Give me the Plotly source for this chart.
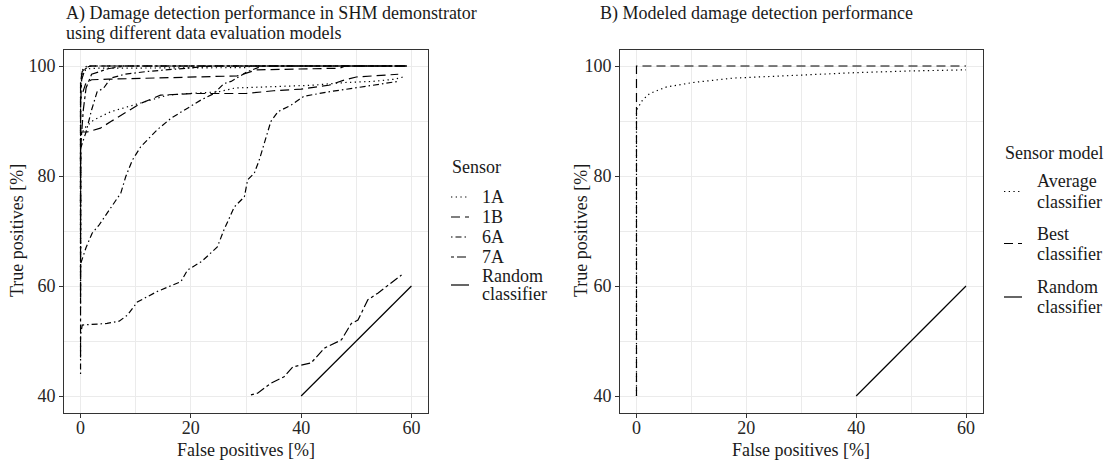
import plotly.graph_objects as go

# ---------------- data ----------------
# Panel A: ROC curves per sensor (false positives %, true positives %)
fp_1a_1 = [0, 0, 0.5, 1.5, 3, 10, 20, 30, 31, 59.2]
tp_1a_1 = [72, 97, 99, 99.5, 99.6, 99.6, 99.7, 99.7, 100, 100]
fp_1a_2 = [0, 0, 1, 2.4, 5.5, 8.5, 12.7, 15.8, 19.4, 25, 28, 35, 42, 48, 53, 57, 58.5]
tp_1a_2 = [66, 87.5, 89, 90.2, 91.7, 92.6, 93.8, 94.7, 95, 95.3, 96, 96.2, 96.5, 97, 97.2, 97.6, 98]
fp_1a_3 = [0, 0, 0.2, 0.6, 1.2, 59.2]
tp_1a_3 = [60, 96, 99, 99.7, 100, 100]

fp_1b_1 = [0, 0, 1, 2, 5, 15, 25, 28.4, 32, 40, 47, 48, 59.2]
tp_1b_1 = [75, 94, 97, 97.5, 97.6, 97.8, 98, 98.2, 99.3, 99.5, 99.6, 100, 100]
fp_1b_2 = [0, 0, 1.2, 3.6, 5.5, 8.5, 10.9, 14.5, 20.5, 30, 35, 40, 45, 48, 50, 57.6]
tp_1b_2 = [70, 88, 88, 88.7, 89.9, 91.7, 93.2, 94.7, 95, 95, 95.5, 95.8, 96.5, 97.5, 98, 98.5]
fp_1b_3 = [0, 0, 0.3, 1, 2, 59.2]
tp_1b_3 = [80, 97, 99, 99.8, 100, 100]

fp_6a_1 = [0, 0, 1, 2.1, 3.3, 6, 7.3, 8.2, 9.4, 10.9, 13.9, 16.4, 19.4, 21.8, 24.2, 26, 27.3, 30.3, 33, 59.2]
tp_6a_1 = [56, 64, 67, 69.6, 71, 75, 76.9, 79.9, 82.9, 85.3, 88.4, 90.5, 92.3, 93.8, 95, 96.8, 97.2, 99, 100, 100]
fp_6a_2 = [0, 0, 0.3, 4.8, 7, 8.5, 10.3, 13.9, 18.2, 19.4, 22, 24.8, 26, 27.9, 29.7, 30.3, 31.5,
           32.4, 34.5, 35.8, 38.2, 40.5, 45, 50, 55, 57.5]
tp_6a_2 = [44, 51, 52.9, 53.2, 53.6, 54.7, 57.1, 59, 60.8, 62.9, 64.5, 67.1, 70.2, 74.4, 76.2, 79.3, 80.5,
           82.9, 89.9, 91.7, 92.9, 94.5, 95.3, 96, 96.8, 97.2]
fp_6a_3 = [0, 0, 1, 2, 3, 4.2, 5.5, 8, 12, 18, 24, 59.2]
tp_6a_3 = [62, 85, 88, 92, 95.3, 96, 97.8, 98.5, 99, 99.5, 100, 100]

fp_7a_1 = [30.9, 32.1, 34.5, 36.9, 38.5, 41.8, 44.2, 47.3, 49.1, 50.3, 52.1, 53.9, 58.2]
tp_7a_1 = [40.2, 40.5, 42.3, 43.5, 45.3, 46, 48.7, 50.2, 53.2, 53.8, 57.5, 58.7, 62]
fp_7a_2 = [0, 0, 0.2, 0.8, 1.5, 59.2]
tp_7a_2 = [47, 93, 97.5, 99.4, 100, 100]
fp_7a_3 = [0, 0, 0.5, 1, 2, 5, 8, 59.2]
tp_7a_3 = [58, 85, 92, 96, 98.5, 99.5, 100, 100]

random_fp = [40, 60]
random_tp = [40, 60]

# Panel B: modeled classifiers
avg_fp = [0, 0, 0.2, 1.1, 2.4, 5.5, 10.3, 17.6, 26.7, 40.1, 50, 60]
avg_tp = [40, 92, 92.3, 93.8, 95, 96.2, 97, 97.8, 98.2, 98.8, 99.1, 99.3]
best_fp = [0, 0, 60]
best_tp = [40, 100, 100]

sensors = ["1A", "1B", "6A", "7A"]
sensor_curves = {
    "1A": [(fp_1a_1, tp_1a_1), (fp_1a_2, tp_1a_2), (fp_1a_3, tp_1a_3)],
    "1B": [(fp_1b_1, tp_1b_1), (fp_1b_2, tp_1b_2), (fp_1b_3, tp_1b_3)],
    "6A": [(fp_6a_1, tp_6a_1), (fp_6a_2, tp_6a_2), (fp_6a_3, tp_6a_3)],
    "7A": [(fp_7a_1, tp_7a_1), (fp_7a_2, tp_7a_2), (fp_7a_3, tp_7a_3)],
}
legend_a_labels = ["1A", "1B", "6A", "7A", "Random classifier"]
legend_b_labels = ["Average classifier", "Best classifier", "Random classifier"]
x_ticks = [0, 20, 40, 60]
y_ticks = [40, 60, 80, 100]

# ---------------- styling ----------------
W, H = 1106, 462
FONT = "Liberation Serif"
TXT = "#1a1a1a"
FS = 18
LW = 1.2
DASH = {
    "dotted": "1.3px,3.4px",
    "dashed": "9px,5px",
    "dotdash": "1.5px,3px,6px,3px",
    "twodash": "3px,3px,9px,3px",
    "solid": "solid",
}
sensor_dash = {"1A": "dotted", "1B": "dashed", "6A": "dotdash", "7A": "twodash"}

fig = go.Figure()

for s in sensors:
    for i, (fx, ty) in enumerate(sensor_curves[s]):
        fig.add_trace(go.Scatter(
            x=fx, y=ty, mode="lines", name=s, legendgroup=s, showlegend=False,
            line=dict(color="black", width=LW, dash=DASH[sensor_dash[s]]),
            xaxis="x", yaxis="y", hoverinfo="skip"))
fig.add_trace(go.Scatter(
    x=random_fp, y=random_tp, mode="lines", name="Random classifier", showlegend=False,
    line=dict(color="black", width=LW, dash="solid"), xaxis="x", yaxis="y"))

fig.add_trace(go.Scatter(
    x=avg_fp, y=avg_tp, mode="lines", name="Average classifier", showlegend=False,
    line=dict(color="black", width=LW, dash=DASH["dotted"]), xaxis="x2", yaxis="y2"))
fig.add_trace(go.Scatter(
    x=best_fp, y=best_tp, mode="lines", name="Best classifier", showlegend=False,
    line=dict(color="black", width=LW, dash=DASH["dashed"]), xaxis="x2", yaxis="y2"))
fig.add_trace(go.Scatter(
    x=random_fp, y=random_tp, mode="lines", name="Random classifier", showlegend=False,
    line=dict(color="black", width=LW, dash="solid"), xaxis="x2", yaxis="y2"))


def axis(domain, rng, ticks, minor, anchor, standoff):
    return dict(
        domain=domain, range=rng, anchor=anchor, tickmode="array", tickvals=ticks,
        showline=True, mirror=True, linecolor="#333333", linewidth=1,
        ticks="outside", ticklen=4, tickwidth=1, tickcolor="#333333",
        ticklabelstandoff=standoff,
        tickfont=dict(family=FONT, size=FS, color="#262626"),
        showgrid=True, gridcolor="#EBEBEB", gridwidth=1.1, zeroline=False,
        minor=dict(tickmode="array", tickvals=minor, showgrid=True, gridcolor="#EBEBEB",
                   gridwidth=0.6, ticks=""),
        fixedrange=True,
    )


ydom = [1 - 412.5 / H, 1 - 49.5 / H]
ax_l, ax_r = 64, 428
bx_l, bx_r = 620, 982.5

fig.update_layout(
    width=W, height=H, margin=dict(l=0, r=0, t=0, b=0),
    paper_bgcolor="white", plot_bgcolor="white",
    font=dict(family=FONT, color=TXT, size=FS),
    xaxis=axis([ax_l / W, ax_r / W], [-3, 63], x_ticks, [10, 30, 50], "y", -5),
    yaxis=axis(ydom, [37, 103], y_ticks, [50, 70, 90], "x", 0),
    xaxis2=axis([bx_l / W, bx_r / W], [-3, 63], x_ticks, [10, 30, 50], "y2", -5),
    yaxis2=axis(ydom, [37, 103], y_ticks, [50, 70, 90], "x2", 0),
    showlegend=False,
)

ann_font = dict(family=FONT, size=FS, color=TXT)


def text(t, x, y, anchor="left", angle=0):
    fig.add_annotation(xref="paper", yref="paper", x=x / W, y=1 - y / H, text=t,
                       xanchor=anchor, yanchor="middle", showarrow=False,
                       textangle=angle, font=ann_font)


def key(x0, x1, y, dash):
    fig.add_shape(type="line", xref="paper", yref="paper", x0=x0 / W, x1=x1 / W,
                  y0=1 - y / H, y1=1 - y / H,
                  line=dict(color="black", width=LW, dash=DASH[dash]))


# plot titles
text("A) Damage detection performance in SHM demonstrator", ax_l, 14)
text("using different data evaluation models", ax_l, 33)
text("B) Modeled damage detection performance", 598, 14)

# axis titles
text("False positives [%]", (ax_l + ax_r) / 2, 450, "center")
text("False positives [%]", (bx_l + bx_r) / 2, 450, "center")
text("True positives [%]", 17, 231, "center", -90)
text("True positives [%]", 581, 231, "center", -90)

# legend A
text("Sensor", 450, 167)
legend_a_dash = ["dotted", "dashed", "dotdash", "twodash", "solid"]
legend_a_y = [197, 217, 237, 257, 285]
for lab, d, yy in zip(legend_a_labels, legend_a_dash, legend_a_y):
    key(451, 469, yy, d)
    words = lab.split(" ")
    if len(words) == 1:
        text(lab, 480, yy)
    else:
        text(words[0], 480, yy - 9)
        text(words[1], 480, yy + 9)

# legend B
text("Sensor model", 1003, 153)
legend_b_dash = ["dotted", "dashed", "solid"]
legend_b_y = [191.5, 243.5, 297]
for lab, d, yy in zip(legend_b_labels, legend_b_dash, legend_b_y):
    key(1004, 1022, yy, d)
    w1, w2 = lab.split(" ")
    text(w1, 1035, yy - 10)
    text(w2, 1035, yy + 10)

fig.write_html("out.html")
